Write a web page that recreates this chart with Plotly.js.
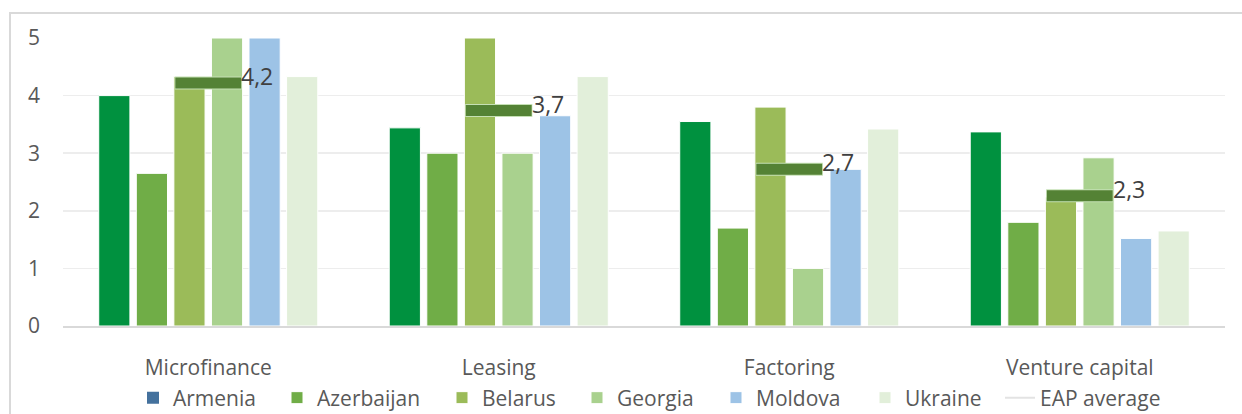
<!DOCTYPE html>
<html>
<head>
<meta charset="utf-8">
<script src="https://cdn.plot.ly/plotly-3.0.1.min.js"></script>
<style>html,body{margin:0;padding:0;background:#fff;}#chart{width:1242px;height:414px;}</style>
</head>
<body>
<div id="chart"></div>
<script>
const categories = ["Microfinance", "Leasing", "Factoring", "Venture capital"];
const countries = ["Armenia", "Azerbaijan", "Belarus", "Georgia", "Moldova", "Ukraine"];
const armenia    = [4.0, 3.44, 3.55, 3.37];
const azerbaijan = [2.65, 3.0, 1.7, 1.8];
const belarus    = [4.33, 5.0, 3.8, 2.24];
const georgia    = [5.0, 3.0, 1.0, 2.92];
const moldova    = [5.0, 3.65, 2.72, 1.52];
const ukraine    = [4.33, 4.33, 3.42, 1.65];
const eapAverage = [4.22, 3.74, 2.72, 2.26];
const tickValues = [0, 1, 2, 3, 4, 5];

const seriesValues = [armenia, azerbaijan, belarus, georgia, moldova, ukraine];
const colors = ["#00913F", "#70AD47", "#9BBB59", "#A9D18E", "#9DC3E6", "#E2EFDA"];
const fontFamily = "'Open Sans', sans-serif";
const textColor = "#595959";
const fs = 21;

// pixel left edge of each legend key (layout)
const legendKeyX = [150, 294, 459, 594, 733, 882, 1019];
const legendIds = ["legend", "legend2", "legend3", "legend4", "legend5", "legend6", "legend7"];

const traces = [];
seriesValues.forEach((vals, i) => {
  traces.push({
    type: "bar",
    name: countries[i],
    x: categories,
    y: vals,
    marker: {color: colors[i], line: {color: "#ffffff", width: 1}},
    showlegend: i !== 0,
    legend: legendIds[i],
    hoverinfo: "x+y+name"
  });
});
// legend entry for Armenia (legend key drawn in blue in the original)
traces.push({
  type: "scatter", mode: "markers", name: "Armenia",
  x: [categories[0]], y: [null],
  marker: {symbol: "square", size: 12, color: "#44719D"},
  legend: legendIds[0], hoverinfo: "skip"
});
// EAP average markers
traces.push({
  type: "scatter", mode: "markers", name: "EAP average outline",
  x: categories, y: eapAverage, showlegend: false,
  marker: {symbol: "line-ew", size: 48, line: {color: "#C5E0B4", width: 13}},
  hoverinfo: "skip"
});
traces.push({
  type: "scatter", mode: "markers", name: "EAP average",
  x: categories, y: eapAverage, showlegend: false,
  marker: {symbol: "line-ew", size: 47, line: {color: "#548235", width: 11}},
  hoverinfo: "x+y+name"
});
traces.push({
  type: "scatter", mode: "lines", name: "EAP average",
  x: [categories[0]], y: [null],
  line: {color: "#E3E3E3", width: 2},
  legend: legendIds[6], hoverinfo: "skip"
});

const annotations = categories.map((c, i) => ({
  x: c, y: eapAverage[i], xref: "x", yref: "y",
  text: eapAverage[i].toFixed(1).replace(".", ","),
  showarrow: false, xanchor: "left", yanchor: "middle",
  xshift: 31, yshift: 7,
  font: {family: fontFamily, size: 23, color: "#404040"}
}));

const L = 63, R = 17, T = 38, B = 88, W = 1242, H = 414;
const pw = W - L - R, ph = H - T - B;
const layout = {
  width: W, height: H,
  margin: {l: L, r: R, t: T, b: B, pad: 0, autoexpand: false},
  paper_bgcolor: "#ffffff", plot_bgcolor: "#ffffff",
  barmode: "group", bargap: 0.224, bargroupgap: 0.17,
  font: {family: fontFamily, size: fs, color: textColor},
  xaxis: {
    type: "category", showgrid: false, zeroline: false,
    showline: true, linecolor: "#D9D9D9", linewidth: 2,
    ticks: "", ticklabelstandoff: 22,
    tickfont: {family: fontFamily, size: fs, color: textColor}
  },
  yaxis: {
    range: [0, 5], tickvals: tickValues, ticktext: tickValues.map(String),
    showgrid: true, gridcolor: "#EDEDED", gridwidth: 1.5,
    zeroline: false, showline: false, ticks: "",
    ticklabelstandoff: 22,
    tickfont: {family: fontFamily, size: fs, color: textColor}
  },
  annotations: annotations,
  shapes: [{
    type: "rect", xref: "paper", yref: "paper", layer: "below",
    x0: (10 - L) / pw, x1: (W + 5 - L) / pw,
    y0: (T + ph - (H + 5)) / ph, y1: (T + ph - 13) / ph,
    line: {color: "#D9D9D9", width: 2}, fillcolor: "rgba(0,0,0,0)"
  }],
  showlegend: true
};
legendIds.forEach((id, i) => {
  const off = i === 6 ? 19 : 17;
  layout[id] = {
    orientation: "h", x: (legendKeyX[i] - off - L) / pw, xanchor: "left",
    y: (ph - (398 - T)) / ph, yanchor: "middle",
    font: {family: fontFamily, size: fs, color: textColor},
    itemwidth: 30, bgcolor: "rgba(0,0,0,0)", borderwidth: 0
  };
});

Plotly.newPlot("chart", traces, layout, {displayModeBar: false, staticPlot: true});
</script>
</body>
</html>
